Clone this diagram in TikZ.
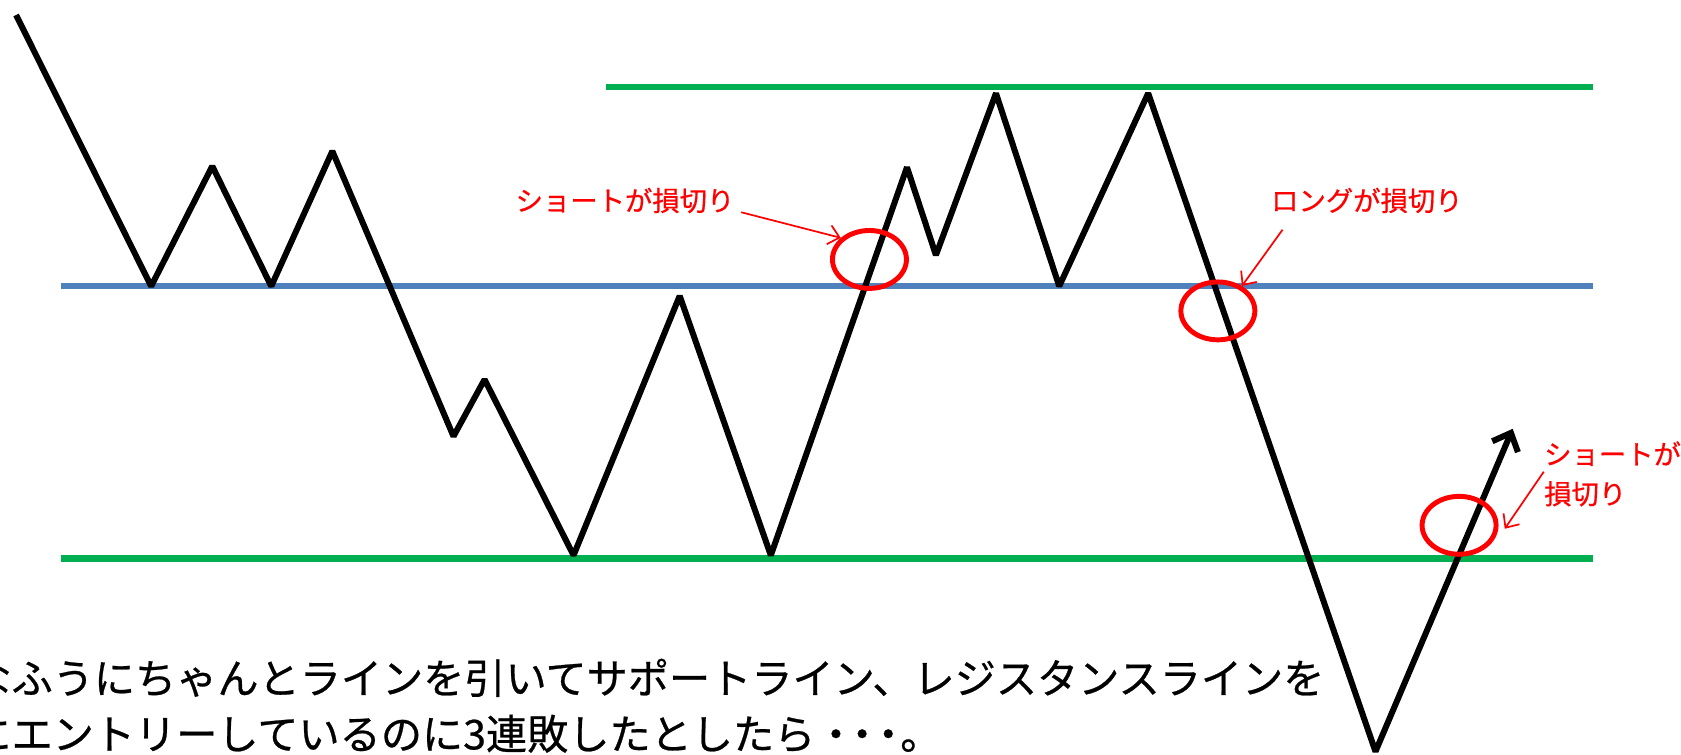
\documentclass[tikz,border=0pt]{standalone}
\usepackage{fontspec}
\newfontfamily\jpfont[FakeBold=0.6]{Noto Sans CJK JP}
\usetikzlibrary{shapes.geometric,arrows.meta}
\definecolor{lvgreen}{HTML}{00B050}
\definecolor{lvblue}{HTML}{4F81BD}

\begin{document}
\begin{tikzpicture}[x=0.5pt,y=-0.5pt,font=\jpfont,
  price/.style={line width=2.8pt,line join=bevel},
  lossring/.style={ellipse,draw=red,line width=2.3pt,inner sep=0pt,minimum width=34.5pt,minimum height=27pt},
  note/.style={text=red,inner sep=0pt,font=\jpfont\fontsize{12.75pt}{18.5pt}\selectfont},
  pointer/.style={red,line width=0.8pt,-{Straight Barb[length=5pt,width=9pt]}},
  caption/.style={anchor=base west,inner sep=0pt,font=\jpfont\fontsize{19.2pt}{24pt}\selectfont}]
  \useasboundingbox (0,0) rectangle (1568,704);
  \clip (0,0) rectangle (1568,704);

  \draw[line width=3.1pt,lvgreen] (565,81) -- (1486,81);
  \draw[line width=2.65pt,lvblue] (57,267) -- (1486,267);
  \draw[line width=3.1pt,lvgreen] (57,521) -- (1486,521);

  \foreach \x/\y [count=\i from 0] in {15/14,141/267,198/155,253/267,310/141,423/407,
    452/354,535/518,634/276,719/518,846/156,873/238,929/87,988/267,1071/87,
    1283/701,1411/400}{\coordinate (z\i) at (\x,\y);}
  \draw[price,-{Straight Barb[length=7pt,width=13pt]}] (z0) \foreach \i in {1,...,16}{-- (z\i)};

  \node[note] (lab1) at (583,187) {ショートが損切り};
  \node[note] (lab2) at (1275,187) {ロングが損切り};
  \node[note,anchor=west,align=left] (lab3) at (1440,442) {ショートが\\損切り};
  \node[lossring] (ring1) at (811,242) {};
  \node[lossring] (ring2) at (1136,290) {};
  \node[lossring] (ring3) at (1361,490) {};
  \draw[pointer] ([shift={(6,11)}]lab1.east) -- (ring1.143);
  \draw[pointer] ([shift={(11,15)}]lab2.south west) -- (ring2.46);
  \draw[pointer] ([shift={(0,-2)}]lab3.west) -- ([shift={(6,0)}]ring3.-5);

  \node[caption] (txt1) at (-28,647) {なふうにちゃんとラインを引いてサポートライン、レジスタンスラインを};
  \node[caption] (txt2) at (-28,699) {にエントリーしているのに3連敗したとしたら・\kern-7pt・\kern-7pt・\kern-4pt。};
\end{tikzpicture}
\end{document}
